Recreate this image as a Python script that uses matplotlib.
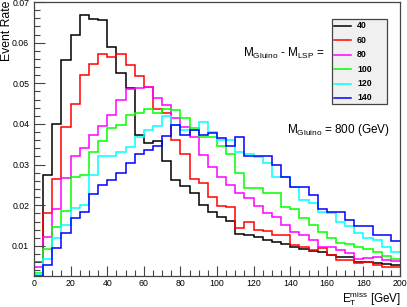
import matplotlib
matplotlib.use("Agg")
import matplotlib.pyplot as plt
import numpy as np
from matplotlib.patches import Rectangle
from matplotlib.lines import Line2D
from matplotlib.ticker import MultipleLocator

plt.rcParams["font.family"] = ["Liberation Sans", "DejaVu Sans"]
plt.rcParams["mathtext.fontset"] = "custom"
plt.rcParams["mathtext.rm"] = "Liberation Sans"
plt.rcParams["mathtext.it"] = "Liberation Sans:italic"
plt.rcParams["mathtext.bf"] = "Liberation Sans:bold"

# MET bins, 5 GeV wide
bin_edges = np.arange(0, 205, 5)

mass_splits = ["40", "60", "80", "100", "120", "140"]
line_colors = ["black", "#ff0000", "#ff00ff", "#00ff00", "#00ffff", "#0000ff"]

rate_40 = [0.0, 0.0274, 0.0401, 0.0557, 0.0619, 0.0669, 0.0658, 0.0656, 0.0589, 0.0526,
           0.0488, 0.0373, 0.0352, 0.0358, 0.0310, 0.0262, 0.0247, 0.0231, 0.0201, 0.0183,
           0.0170, 0.0161, 0.0130, 0.0127, 0.0121, 0.0115, 0.0110, 0.0105, 0.0098, 0.0093,
           0.0088, 0.0084, 0.0078, 0.0073, 0.0072, 0.0061, 0.0060, 0.0058, 0.0055, 0.0052]
rate_60 = [0.0061, 0.0180, 0.0265, 0.0392, 0.0449, 0.0520, 0.0548, 0.0572, 0.0564, 0.0572,
           0.0545, 0.0518, 0.0490, 0.0436, 0.0426, 0.0360, 0.0326, 0.0264, 0.0254, 0.0221,
           0.0198, 0.0195, 0.0145, 0.0160, 0.0139, 0.0137, 0.0127, 0.0127, 0.0102, 0.0098,
           0.0090, 0.0094, 0.0078, 0.0066, 0.0066, 0.0057, 0.0061, 0.0053, 0.0049, 0.0048]
rate_80 = [0.0048, 0.0123, 0.0190, 0.0266, 0.0322, 0.0342, 0.0373, 0.0395, 0.0422, 0.0459,
           0.0485, 0.0488, 0.0490, 0.0463, 0.0447, 0.0414, 0.0393, 0.0369, 0.0324, 0.0295,
           0.0270, 0.0250, 0.0229, 0.0217, 0.0197, 0.0180, 0.0170, 0.0152, 0.0135, 0.0127,
           0.0115, 0.0098, 0.0098, 0.0090, 0.0082, 0.0067, 0.0070, 0.0072, 0.0065, 0.0062]
rate_100 = [0.0033, 0.0092, 0.0146, 0.0187, 0.0269, 0.0274, 0.0332, 0.0357, 0.0389, 0.0397,
            0.0422, 0.0427, 0.0438, 0.0426, 0.0438, 0.0434, 0.0414, 0.0389, 0.0369, 0.0369,
            0.0346, 0.0325, 0.0280, 0.0242, 0.0242, 0.0231, 0.0229, 0.0195, 0.0190, 0.0168,
            0.0152, 0.0135, 0.0119, 0.0108, 0.0105, 0.0098, 0.0092, 0.0086, 0.0074, 0.0067]
rate_120 = [0.0030, 0.0068, 0.0119, 0.0152, 0.0193, 0.0201, 0.0274, 0.0320, 0.0322, 0.0330,
            0.0344, 0.0369, 0.0385, 0.0395, 0.0419, 0.0397, 0.0385, 0.0385, 0.0405, 0.0379,
            0.0360, 0.0360, 0.0330, 0.0325, 0.0318, 0.0305, 0.0270, 0.0270, 0.0246, 0.0213,
            0.0205, 0.0184, 0.0180, 0.0160, 0.0149, 0.0131, 0.0119, 0.0115, 0.0098, 0.0086]
rate_140 = [0.0027, 0.0053, 0.0094, 0.0131, 0.0168, 0.0184, 0.0228, 0.0250, 0.0262, 0.0279,
            0.0303, 0.0325, 0.0335, 0.0345, 0.0370, 0.0397, 0.0372, 0.0385, 0.0372, 0.0377,
            0.0365, 0.0345, 0.0368, 0.0322, 0.0322, 0.0322, 0.0299, 0.0269, 0.0244, 0.0244,
            0.0225, 0.0190, 0.0184, 0.0184, 0.0164, 0.0149, 0.0149, 0.0127, 0.0127, 0.0113]

all_rates = [rate_40, rate_60, rate_80, rate_100, rate_120, rate_140]

W, H = 407, 307


def fx(px):
    return px / W


def fy(py):
    return 1 - py / H


fig = plt.figure(figsize=(W / 100, H / 100), dpi=100)
ax = fig.add_axes([fx(34), fy(276), (400 - 34) / W, (276 - 2) / H])

for rates, col in zip(all_rates, line_colors):
    ax.stairs(rates, bin_edges, color=col, lw=1.1, baseline=None)

ax.set_xlim(0, 200)
ax.set_ylim(0.0026, 0.07)
ax.xaxis.set_major_locator(MultipleLocator(20))
ax.xaxis.set_minor_locator(MultipleLocator(5))
ax.yaxis.set_major_locator(MultipleLocator(0.01))
ax.yaxis.set_minor_locator(MultipleLocator(0.002))
ax.set_yticks(np.arange(0.01, 0.071, 0.01))
ax.set_yticklabels(["0.01", "0.02", "0.03", "0.04", "0.05", "0.06", "0.07"])
ax.tick_params(which="both", direction="in", top=False, right=False,
               labelsize=6.3, color="#444444", width=0.8)
ax.tick_params(axis="y", which="major", length=8, pad=3.5)
ax.tick_params(axis="y", which="minor", length=4)
ax.tick_params(axis="x", which="major", length=7, pad=2.2)
ax.tick_params(axis="x", which="minor", length=4)
for s in ax.spines.values():
    s.set_color("#444444")
    s.set_linewidth(0.9)

fig.text(fx(7), fy(1), "Event Rate", rotation=90, ha="center", va="top", fontsize=8.8)
fig.text(fx(401), fy(302.5), r"E$_{\rm T}^{\rm miss}$ [GeV]", ha="right", va="baseline",
         fontsize=8.4)

fig.text(fx(243), fy(57), r"M$_{\rm Gluino}$ - M$_{\rm LSP}$ =", ha="left", va="baseline",
         fontsize=8.5)
fig.text(fx(287), fy(133), r"M$_{\rm Gluino}$ = 800 (GeV)", ha="left", va="baseline",
         fontsize=8.5)

# legend box, drawn by hand to match the ROOT look
box = Rectangle((fx(332), fy(104)), fx(387) - fx(332), fy(18.5) - fy(104),
                transform=fig.transFigure, facecolor="#f0f0f0", edgecolor="#444444",
                lw=0.9, zorder=5)
fig.add_artist(box)
for i, (lab, col) in enumerate(zip(mass_splits, line_colors)):
    yy = fy(26 + i * 14.4)
    fig.add_artist(Line2D([fx(334), fx(351)], [yy, yy], transform=fig.transFigure,
                          color=col, lw=1.1, zorder=6))
    fig.text(fx(357), yy, lab, ha="left", va="center", fontsize=6.3,
             fontweight="bold", zorder=6)

fig.savefig("out.png", dpi=100)
